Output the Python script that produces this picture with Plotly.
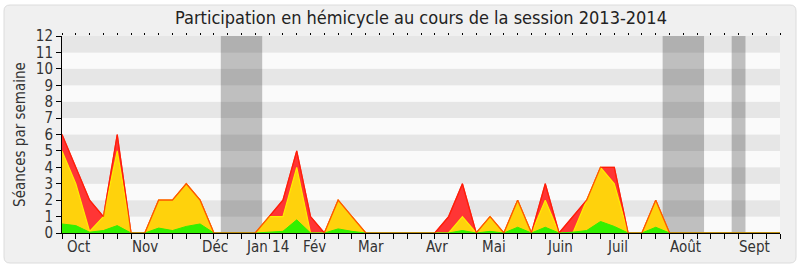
import plotly.graph_objects as go

# weekly index 0..52 (session weeks)
weeks = list(range(53))

# cumulative tops of each stacked layer
total_red = [6, 4, 2, 1, 6, 0, 0, 2, 2, 3, 2, 0, 0, 0, 0, 1, 2, 5, 1, 0,
             2, 1, 0, 0, 0, 0, 0, 0, 1, 3, 0, 1, 0, 2, 0, 3, 0, 1, 2, 4,
             4, 0, 0, 2, 0, 0, 0, 0, 0, 0, 0, 0, 0]
top_yellow = [5, 3, 0.1, 1, 5, 0, 0, 2, 2, 3, 2, 0, 0, 0, 0, 1, 1, 4, 0, 0,
              2, 1, 0, 0, 0, 0, 0, 0, 0, 1, 0, 1, 0, 2, 0, 2, 0, 0, 2, 4,
              3, 0, 0, 2, 0, 0, 0, 0, 0, 0, 0, 0, 0]
top_green = [0.55, 0.45, 0.05, 0.15, 0.45, 0, 0, 0.3, 0.15, 0.4, 0.55, 0, 0, 0, 0, 0.05, 0.1, 0.8, 0, 0,
             0.25, 0.1, 0, 0, 0, 0, 0, 0, 0, 0.15, 0, 0.1, 0, 0.35, 0, 0.35, 0, 0.05, 0.15, 0.7,
             0.4, 0, 0, 0.35, 0, 0, 0, 0, 0, 0, 0, 0, 0]

# month labels and their week positions
month_labels = ["Oct", "Nov", "Déc", "Jan 14", "Fév", "Mar", "Avr", "Mai", "Juin", "Juil", "Août", "Sept"]
month_weeks = [0.25, 4.95, 10.0, 13.2, 17.3, 21.3, 26.2, 30.3, 34.95, 39.3, 43.9, 48.9]

# holiday (vacation) bands in week units
holidays = [(11.5, 14.5), (43.5, 46.5), (48.5, 49.5)]

FONT = "DejaVu Sans Condensed, DejaVu Sans, sans-serif"

fig = go.Figure()
fig.add_trace(go.Scatter(x=weeks, y=total_red, mode="lines", fill="tozeroy",
                         line=dict(color="#ff1a1a", width=1.2), fillcolor="#ff3535",
                         hoverinfo="skip", showlegend=False))
fig.add_trace(go.Scatter(x=weeks, y=top_yellow, mode="lines", fill="tozeroy",
                         line=dict(color="#ffee00", width=1.2), fillcolor="#ffd20c",
                         hoverinfo="skip", showlegend=False))
fig.add_trace(go.Scatter(x=weeks, y=top_green, mode="lines", fill="tozeroy",
                         line=dict(color="#33ee00", width=1), fillcolor="#33f000",
                         hoverinfo="skip", showlegend=False))
fig.add_trace(go.Scatter(x=weeks, y=total_red, mode="lines",
                         line=dict(color="#ff2000", width=1.2), opacity=0.75,
                         hoverinfo="skip", showlegend=False))
# invisible trace for top tick axis
fig.add_trace(go.Scatter(x=[0, 52], y=[0, 0], xaxis="x2", mode="lines",
                         line=dict(width=0), hoverinfo="skip", showlegend=False))

shapes = []
# outer rounded frame (paper coords relative to plot area 62..780 x 36..233)
L, R, T, B = 62, 780, 36, 233
W, H = R - L, B - T
def px(x):
    return (x - L) / W
def py(y):
    return (B - y) / H
x0, x1, y0, y1 = 4, 796, 5, 263
r = 6
path = (f"M {px(x0 + r)} {py(y0)} L {px(x1 - r)} {py(y0)} Q {px(x1)} {py(y0)} {px(x1)} {py(y0 + r)} "
        f"L {px(x1)} {py(y1 - r)} Q {px(x1)} {py(y1)} {px(x1 - r)} {py(y1)} "
        f"L {px(x0 + r)} {py(y1)} Q {px(x0)} {py(y1)} {px(x0)} {py(y1 - r)} "
        f"L {px(x0)} {py(y0 + r)} Q {px(x0)} {py(y0)} {px(x0 + r)} {py(y0)} Z")
shapes.append(dict(type="path", xref="paper", yref="paper", path=path,
                   fillcolor="#f0f0f0", line=dict(color="#dcdcdc", width=1), layer="below"))
# alternating horizontal stripes
for k in range(12):
    shapes.append(dict(type="rect", xref="x", yref="y", x0=0, x1=52, y0=k, y1=k + 1,
                       fillcolor="#e6e6e6" if k % 2 else "#fafafa", line=dict(width=0), layer="below"))
# holiday bands
for a, b in holidays:
    shapes.append(dict(type="rect", xref="x", yref="y", x0=a, x1=b, y0=0, y1=12,
                       fillcolor="rgba(0,0,0,0.235)", line=dict(width=0), layer="below"))

annotations = []
for lab, w in zip(month_labels, month_weeks):
    annotations.append(dict(x=w, y=0, xref="x", yref="paper", text=lab, showarrow=False,
                            xanchor="left", yanchor="top", yshift=-3,
                            font=dict(family=FONT, size=15, color="#333333")))

fig.update_layout(
    width=800, height=267,
    margin=dict(l=L, r=800 - R, t=T, b=267 - B, pad=0),
    paper_bgcolor="#ffffff", plot_bgcolor="#fafafa",
    title=dict(text="Participation en hémicycle au cours de la session 2013-2014",
               x=(L + R) / 2 / 800, xanchor="center", y=1 - 18 / 267, yanchor="middle",
               font=dict(family=FONT, size=18, color="#222222")),
    xaxis=dict(range=[0, 52], tickvals=weeks, showticklabels=False, ticks="outside",
               ticklen=5, tickcolor="#000000", tickwidth=1, showline=True, linecolor="#000000",
               linewidth=1, showgrid=False, zeroline=False, fixedrange=True),
    xaxis2=dict(range=[0, 52], overlaying="x", side="top", tickvals=weeks, showticklabels=False,
                ticks="outside", ticklen=2, tickcolor="#000000", showline=False, showgrid=False,
                zeroline=False),
    yaxis=dict(range=[0, 12], tickvals=list(range(13)), ticks="outside", ticklen=5,
               tickcolor="#000000", showline=True, linecolor="#000000", linewidth=1,
               showgrid=False, zeroline=False,
               tickfont=dict(family=FONT, size=15, color="#333333"),
               title=dict(text="Séances par semaine", standoff=6,
                          font=dict(family=FONT, size=15, color="#333333"))),
    shapes=shapes, annotations=annotations,
)

fig.write_html("out.html")
